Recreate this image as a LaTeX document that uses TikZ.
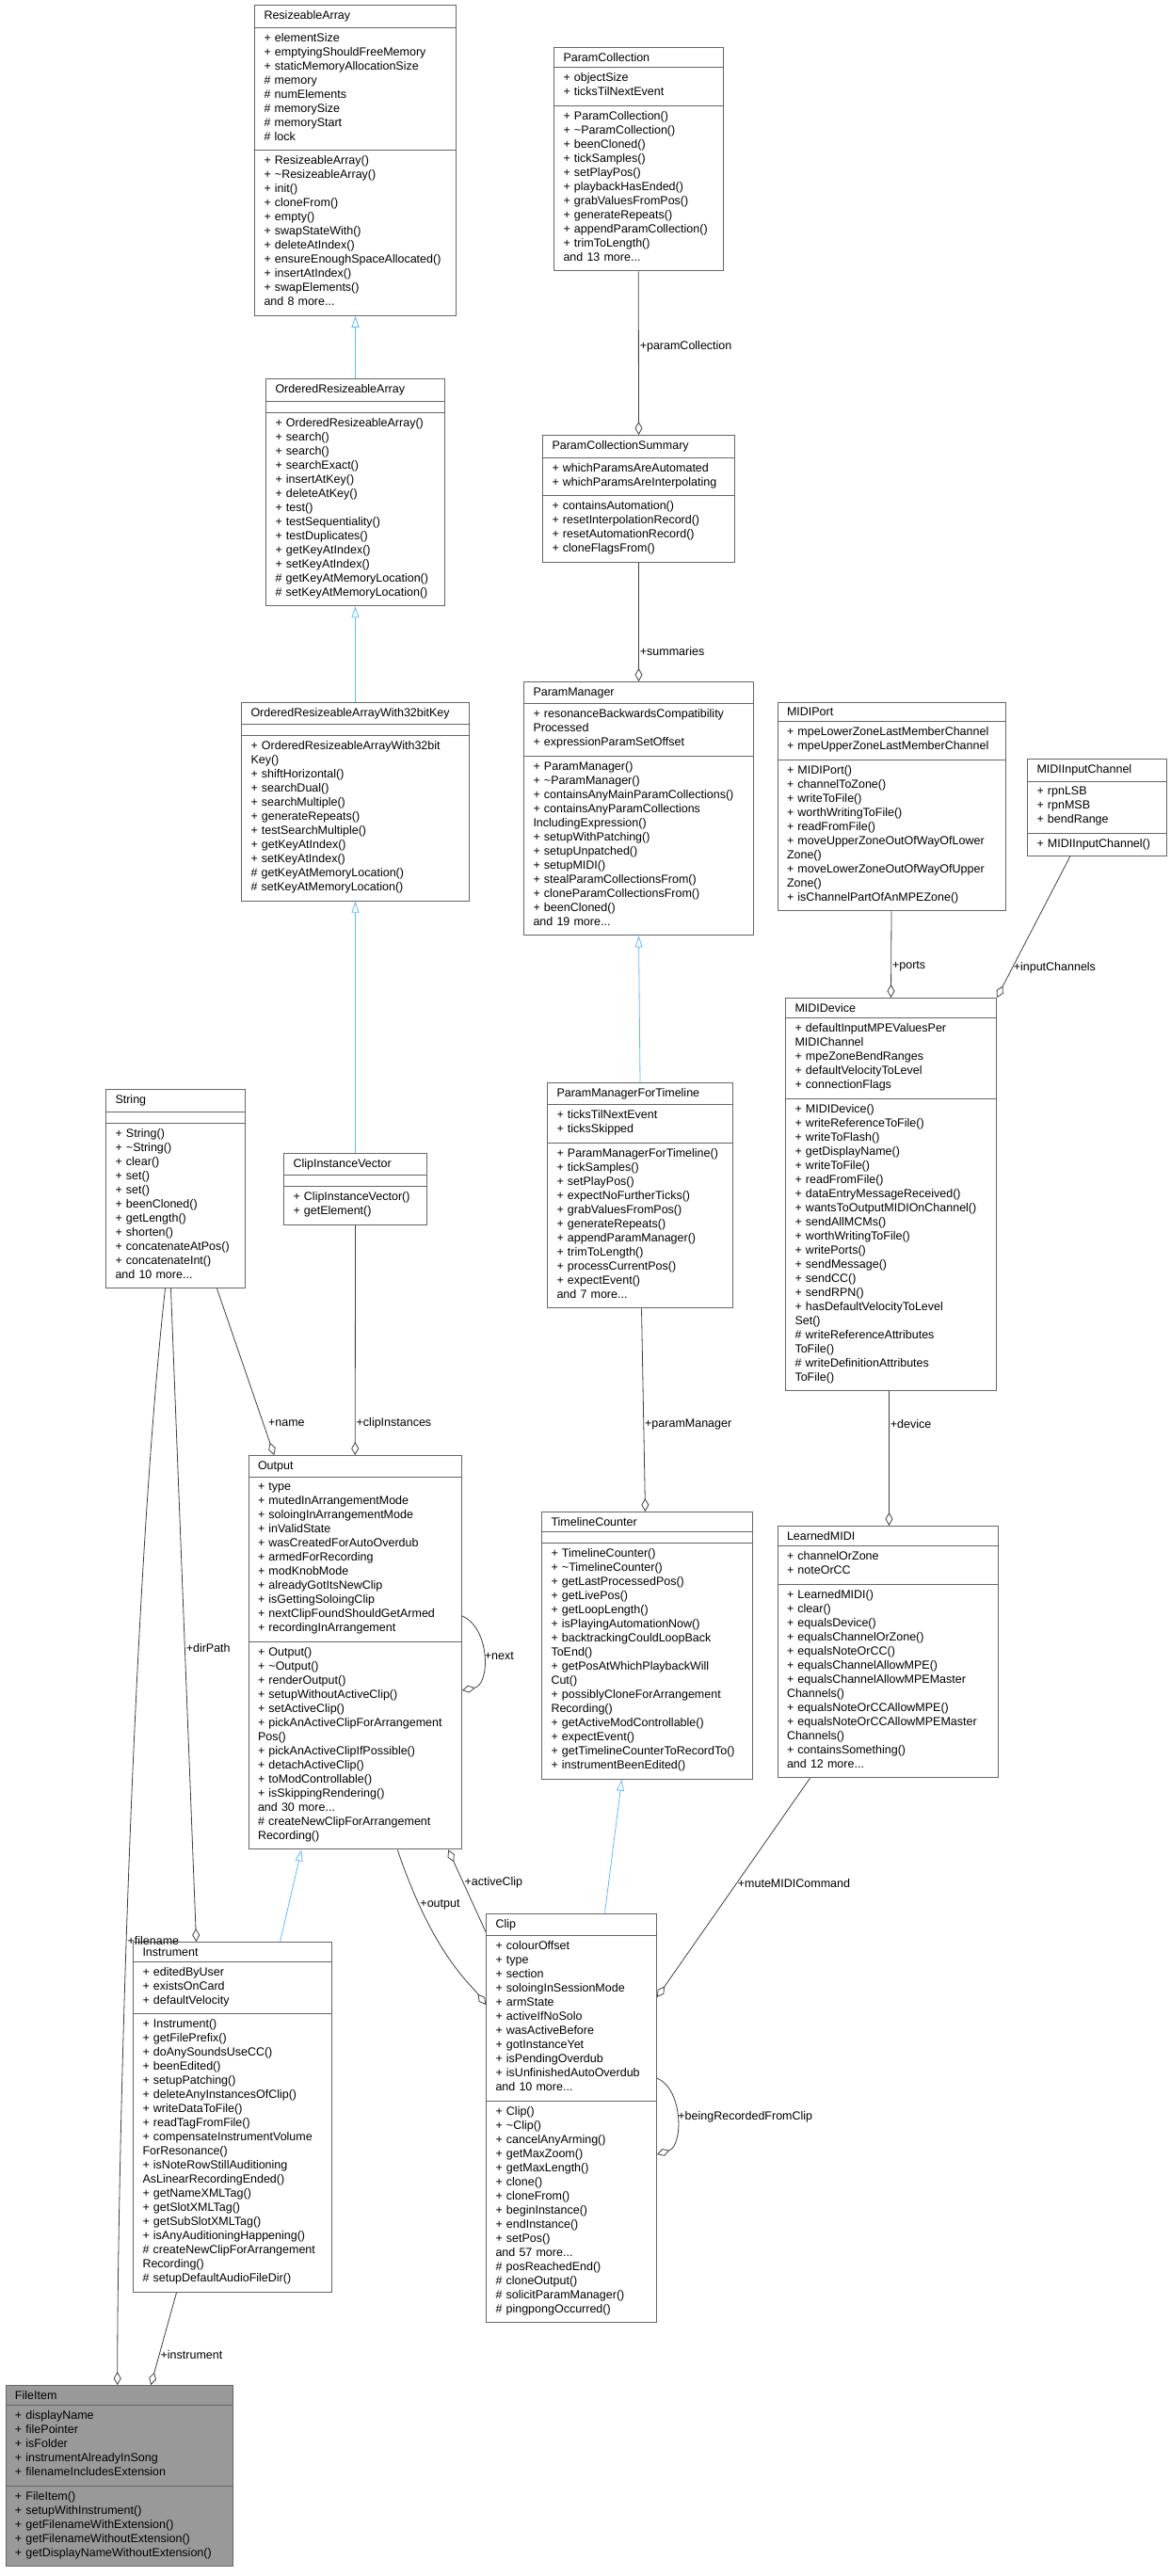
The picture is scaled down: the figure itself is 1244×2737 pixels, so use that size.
\documentclass[tikz,border=0pt]{standalone}
\usepackage{fontspec}
\setmainfont{Liberation Sans}
\usetikzlibrary{shapes.multipart, arrows.meta, calc}
\definecolor{boxline}{HTML}{666666}
\definecolor{edgeline}{HTML}{404040}
\definecolor{inhline}{HTML}{63B8FF}
\definecolor{curfill}{HTML}{999999}
\newcommand{\umlfont}{\fontsize{12.5}{15}\selectfont\parindent=0pt\everypar{\strut}}
\tikzset{
    cls/.style={rectangle split, rectangle split parts=3, draw=boxline, line width=1pt,
      fill=white, inner xsep=10pt, inner ysep=5.5pt, align=left, font=\umlfont,
      anchor=north west, text width=#1},
    agg/.style={draw=edgeline, line width=0.8pt, -{Diamond[open, length=14pt, width=8pt, fill=white]}},
    inh/.style={draw=inhline, line width=0.8pt, -{Triangle[open, length=12pt, width=8pt, fill=white]}},
    lbl/.style={font=\fontsize{12.5}{15}\selectfont, anchor=west, inner sep=1pt},
}
\begin{document}
\begin{tikzpicture}[x=1pt, y=-1pt]
    \useasboundingbox (0,0) rectangle (1244,2737);

    % classes
    \node[cls=194pt] (ra) at (270,5) {\centering ResizeableArray
      \nodepart{two}+~elementSize\\+~emptyingShouldFreeMemory\\+~staticMemoryAllocationSize\\\#~memory\\\#~numElements\\\#~memorySize\\\#~memoryStart\\\#~lock
      \nodepart{three}+~ResizeableArray()\\+~\textasciitilde ResizeableArray()\\+~init()\\+~cloneFrom()\\+~empty()\\+~swapStateWith()\\+~deleteAtIndex()\\+~ensureEnoughSpaceAllocated()\\+~insertAtIndex()\\+~swapElements()\\and 8 more...};
    \node[cls=159.5pt] (pc) at (588,50) {\centering ParamCollection
      \nodepart{two}+~objectSize\\+~ticksTilNextEvent
      \nodepart{three}+~ParamCollection()\\+~\textasciitilde ParamCollection()\\+~beenCloned()\\+~tickSamples()\\+~setPlayPos()\\+~playbackHasEnded()\\+~grabValuesFromPos()\\+~generateRepeats()\\+~appendParamCollection()\\+~trimToLength()\\and 13 more...};
    \node[cls=170pt] (ora) at (282,402) {\centering OrderedResizeableArray
      \nodepart{two}\mbox{}
      \nodepart{three}+~OrderedResizeableArray()\\+~search()\\+~search()\\+~searchExact()\\+~insertAtKey()\\+~deleteAtKey()\\+~test()\\+~testSequentiality()\\+~testDuplicates()\\+~getKeyAtIndex()\\+~setKeyAtIndex()\\\#~getKeyAtMemoryLocation()\\\#~setKeyAtMemoryLocation()};
    \node[cls=184pt] (pcs) at (576,462) {\centering ParamCollectionSummary
      \nodepart{two}+~whichParamsAreAutomated\\+~whichParamsAreInterpolating
      \nodepart{three}+~containsAutomation()\\+~resetInterpolationRecord()\\+~resetAutomationRecord()\\+~cloneFlagsFrom()};
    \node[cls=222pt] (oraw) at (256,745.5) {\centering OrderedResizeableArrayWith32bitKey
      \nodepart{two}\mbox{}
      \nodepart{three}+~OrderedResizeableArrayWith32bit\\Key()\\+~shiftHorizontal()\\+~searchDual()\\+~searchMultiple()\\+~generateRepeats()\\+~testSearchMultiple()\\+~getKeyAtIndex()\\+~setKeyAtIndex()\\\#~getKeyAtMemoryLocation()\\\#~setKeyAtMemoryLocation()};
    \node[cls=224pt] (pm) at (556,724) {\centering ParamManager
      \nodepart{two}+~resonanceBackwardsCompatibility\\Processed\\+~expressionParamSetOffset
      \nodepart{three}+~ParamManager()\\+~\textasciitilde ParamManager()\\+~containsAnyMainParamCollections()\\+~containsAnyParamCollections\\IncludingExpression()\\+~setupWithPatching()\\+~setupUnpatched()\\+~setupMIDI()\\+~stealParamCollectionsFrom()\\+~cloneParamCollectionsFrom()\\+~beenCloned()\\and 19 more...};
    \node[cls=222pt] (port) at (825.5,745.5) {\centering MIDIPort
      \nodepart{two}+~mpeLowerZoneLastMemberChannel\\+~mpeUpperZoneLastMemberChannel
      \nodepart{three}+~MIDIPort()\\+~channelToZone()\\+~writeToFile()\\+~worthWritingToFile()\\+~readFromFile()\\+~moveUpperZoneOutOfWayOfLower\\Zone()\\+~moveLowerZoneOutOfWayOfUpper\\Zone()\\+~isChannelPartOfAnMPEZone()};
    \node[cls=128pt] (inch) at (1091,806) {\centering MIDIInputChannel
      \nodepart{two}+~rpnLSB\\+~rpnMSB\\+~bendRange
      \nodepart{three}+~MIDIInputChannel()};
    \node[cls=204pt] (dev) at (834,1060) {\centering MIDIDevice
      \nodepart{two}+~defaultInputMPEValuesPer\\MIDIChannel\\+~mpeZoneBendRanges\\+~defaultVelocityToLevel\\+~connectionFlags
      \nodepart{three}+~MIDIDevice()\\+~writeReferenceToFile()\\+~writeToFlash()\\+~getDisplayName()\\+~writeToFile()\\+~readFromFile()\\+~dataEntryMessageReceived()\\+~wantsToOutputMIDIOnChannel()\\+~sendAllMCMs()\\+~worthWritingToFile()\\+~writePorts()\\+~sendMessage()\\+~sendCC()\\+~sendRPN()\\+~hasDefaultVelocityToLevel\\Set()\\\#~writeReferenceAttributes\\ToFile()\\\#~writeDefinitionAttributes\\ToFile()};
    \node[cls=128pt] (str) at (112,1157) {\centering String
      \nodepart{two}\mbox{}
      \nodepart{three}+~String()\\+~\textasciitilde String()\\+~clear()\\+~set()\\+~set()\\+~beenCloned()\\+~getLength()\\+~shorten()\\+~concatenateAtPos()\\+~concatenateInt()\\and 10 more...};
    \node[cls=132pt] (civ) at (301,1224.5) {\centering ClipInstanceVector
      \nodepart{two}\mbox{}
      \nodepart{three}+~ClipInstanceVector()\\+~getElement()};
    \node[cls=177pt] (pmt) at (581,1149.5) {\centering ParamManagerForTimeline
      \nodepart{two}+~ticksTilNextEvent\\+~ticksSkipped
      \nodepart{three}+~ParamManagerForTimeline()\\+~tickSamples()\\+~setPlayPos()\\+~expectNoFurtherTicks()\\+~grabValuesFromPos()\\+~generateRepeats()\\+~appendParamManager()\\+~trimToLength()\\+~processCurrentPos()\\+~expectEvent()\\and 7 more...};
    \node[cls=206.5pt] (out) at (263.5,1546) {\centering Output
      \nodepart{two}+~type\\+~mutedInArrangementMode\\+~soloingInArrangementMode\\+~inValidState\\+~wasCreatedForAutoOverdub\\+~armedForRecording\\+~modKnobMode\\+~alreadyGotItsNewClip\\+~isGettingSoloingClip\\+~nextClipFoundShouldGetArmed\\+~recordingInArrangement
      \nodepart{three}+~Output()\\+~\textasciitilde Output()\\+~renderOutput()\\+~setupWithoutActiveClip()\\+~setActiveClip()\\+~pickAnActiveClipForArrangement\\Pos()\\+~pickAnActiveClipIfPossible()\\+~detachActiveClip()\\+~toModControllable()\\+~isSkippingRendering()\\and 30 more...\\\#~createNewClipForArrangement\\Recording()};
    \node[cls=204pt] (tc) at (575,1606) {\centering TimelineCounter
      \nodepart{two}\mbox{}
      \nodepart{three}+~TimelineCounter()\\+~\textasciitilde TimelineCounter()\\+~getLastProcessedPos()\\+~getLivePos()\\+~getLoopLength()\\+~isPlayingAutomationNow()\\+~backtrackingCouldLoopBack\\ToEnd()\\+~getPosAtWhichPlaybackWill\\Cut()\\+~possiblyCloneForArrangement\\Recording()\\+~getActiveModControllable()\\+~expectEvent()\\+~getTimelineCounterToRecordTo()\\+~instrumentBeenEdited()};
    \node[cls=214pt] (lm) at (825.5,1621) {\centering LearnedMIDI
      \nodepart{two}+~channelOrZone\\+~noteOrCC
      \nodepart{three}+~LearnedMIDI()\\+~clear()\\+~equalsDevice()\\+~equalsChannelOrZone()\\+~equalsNoteOrCC()\\+~equalsChannelAllowMPE()\\+~equalsChannelAllowMPEMaster\\Channels()\\+~equalsNoteOrCCAllowMPE()\\+~equalsNoteOrCCAllowMPEMaster\\Channels()\\+~containsSomething()\\and 12 more...};
    \node[cls=161pt] (clip) at (516,2032.6) {\centering Clip
      \nodepart{two}+~colourOffset\\+~type\\+~section\\+~soloingInSessionMode\\+~armState\\+~activeIfNoSolo\\+~wasActiveBefore\\+~gotInstanceYet\\+~isPendingOverdub\\+~isUnfinishedAutoOverdub\\and 10 more...
      \nodepart{three}+~Clip()\\+~\textasciitilde Clip()\\+~cancelAnyArming()\\+~getMaxZoom()\\+~getMaxLength()\\+~clone()\\+~cloneFrom()\\+~beginInstance()\\+~endInstance()\\+~setPos()\\and 57 more...\\\#~posReachedEnd()\\\#~cloneOutput()\\\#~solicitParamManager()\\\#~pingpongOccurred()};
    \node[cls=191pt] (ins) at (141,2063) {\centering Instrument
      \nodepart{two}+~editedByUser\\+~existsOnCard\\+~defaultVelocity
      \nodepart{three}+~Instrument()\\+~getFilePrefix()\\+~doAnySoundsUseCC()\\+~beenEdited()\\+~setupPatching()\\+~deleteAnyInstancesOfClip()\\+~writeDataToFile()\\+~readTagFromFile()\\+~compensateInstrumentVolume\\ForResonance()\\+~isNoteRowStillAuditioning\\AsLinearRecordingEnded()\\+~getNameXMLTag()\\+~getSlotXMLTag()\\+~getSubSlotXMLTag()\\+~isAnyAuditioningHappening()\\\#~createNewClipForArrangement\\Recording()\\\#~setupDefaultAudioFileDir()};
    \node[cls=221.5pt, fill=curfill] (fi) at (5.5,2534) {\centering FileItem
      \nodepart{two}+~displayName\\+~filePointer\\+~isFolder\\+~instrumentAlreadyInSong\\+~filenameIncludesExtension
      \nodepart{three}+~FileItem()\\+~setupWithInstrument()\\+~getFilenameWithExtension()\\+~getFilenameWithoutExtension()\\+~getDisplayNameWithoutExtension()};

    % inheritance
    \draw[inh] (ora.north) -- (ra.south);
    \draw[inh] (oraw.north) -- (ora.south);
    \draw[inh] (civ.north) -- (oraw.south);
    \draw[inh] (pmt.north) -- (pm.south);
    \draw[inh] ([xshift=50.5pt]ins.north) -- ([xshift=-57pt]out.south);
    \draw[inh] ([xshift=35.5pt]clip.north) -- ([xshift=-27pt]tc.south);

    % members
    \draw[agg] (pc.south) -- node[lbl, pos=.46] {+paramCollection} (pcs.north);
    \draw[agg] (pcs.south) -- node[lbl, pos=.75] {+summaries} (pm.north);
    \draw[agg] (port.south) -- node[lbl, pos=.64] {+ports} (dev.north);
    \draw[agg] ([xshift=-28.5pt]inch.south) -- node[lbl, pos=.79] {+inputChannels} (dev.north east);
    \draw[agg] ([xshift=44pt]str.south) -- node[lbl, pos=.81, xshift=4pt] {+name} ([xshift=-86pt]out.north);
    \draw[agg] (civ.south) -- node[lbl, pos=.86] {+clipInstances} (out.north);
    \draw[agg] ([xshift=1.5pt]pmt.south) -- node[lbl, pos=.57] {+paramManager} ([xshift=-2pt]tc.north);
    \draw[agg] ([xshift=-2pt]dev.south) -- node[lbl, pos=.24] {+device} ([xshift=1.5pt]lm.north);
    \draw[agg] ([xshift=-5pt]str.south) -- node[lbl, pos=.55] {+dirPath} ([xshift=-38.5pt]ins.north);
    \draw[agg] ([xshift=-11pt]str.south) .. controls +(-35,316) and +(0,-234) .. node[lbl, pos=.56] {+filename} ([xshift=-2pt]fi.north);
    \draw[agg] ([xshift=-59.5pt]ins.south) -- node[lbl, pos=.67] {+instrument} ([xshift=33.5pt]fi.north);
    \draw[agg] ([yshift=-171pt]out.north east) .. controls +(30,13) and +(30,-6) .. node[lbl, pos=.5] {+next} ([yshift=-250pt]out.north east);
    \draw[agg] ([xshift=45pt]out.south) .. controls +(38,112) and +(-16,-22) .. node[lbl, pos=.2] {+output} ([yshift=-97.4pt]clip.north west);
    \draw[agg] ([yshift=-20pt]clip.north west) -- node[lbl, pos=.6] {+activeClip} ([xshift=99pt]out.south);
    \draw[agg] ([xshift=-82.5pt]lm.south) -- node[lbl, pos=.48] {+muteMIDICommand} ([yshift=-89.4pt]clip.north east);
    \draw[agg] ([yshift=-175.4pt]clip.north east) .. controls +(28,12) and +(28,-9) .. node[lbl, pos=.5] {+beingRecordedFromClip} ([yshift=-256.4pt]clip.north east);
\end{tikzpicture}
\end{document}
